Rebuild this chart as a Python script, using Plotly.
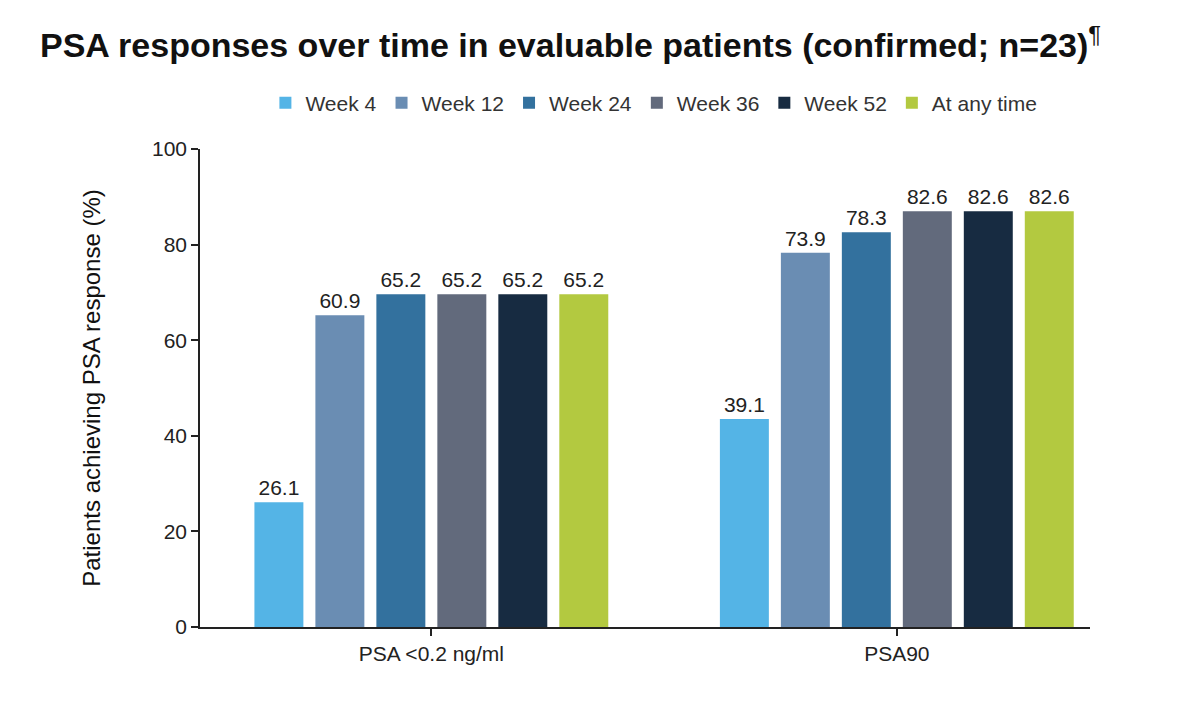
import plotly.graph_objects as go

categories = ["PSA <0.2 ng/ml", "PSA90"]
series_names = ["Week 4", "Week 12", "Week 24", "Week 36", "Week 52", "At any time"]
# bar heights as drawn in the reference (%)
bar_heights = {
    "Week 4": [26.1, 43.5],
    "Week 12": [65.2, 78.3],
    "Week 24": [69.6, 82.6],
    "Week 36": [69.6, 87.0],
    "Week 52": [69.6, 87.0],
    "At any time": [69.6, 87.0],
}
# value labels printed above the bars
bar_labels = {
    "Week 4": ["26.1", "39.1"],
    "Week 12": ["60.9", "73.9"],
    "Week 24": ["65.2", "78.3"],
    "Week 36": ["65.2", "82.6"],
    "Week 52": ["65.2", "82.6"],
    "At any time": ["65.2", "82.6"],
}
colors = ["#54B4E6", "#6A8DB3", "#33719E", "#626A7C", "#172B41", "#B3C940"]
y_ticks = [0, 20, 40, 60, 80, 100]

FONT = "Liberation Sans, Arial, sans-serif"

fig = go.Figure()
for name, col in zip(series_names, colors):
    fig.add_trace(go.Bar(
        name=name,
        x=categories,
        y=bar_heights[name],
        text=bar_labels[name],
        textposition="outside",
        textfont=dict(size=21, color="#222222", family=FONT),
        marker=dict(color=col, line=dict(width=0)),
        cliponaxis=False,
    ))

fig.update_layout(
    width=1200, height=718,
    paper_bgcolor="white", plot_bgcolor="white",
    barmode="group", bargap=0.214, bargroupgap=0.197,
    margin=dict(l=200, r=110, t=149, b=91, autoexpand=False),
    font=dict(family=FONT, color="#222222"),
    title=dict(
        text="<b>PSA responses over time in evaluable patients (confirmed; n=23)</b><sup>¶</sup>",
        x=40 / 1200, xanchor="left", xref="container",
        y=1 - 45 / 718, yanchor="middle", yref="container",
        font=dict(size=34, color="#111111", family=FONT),
    ),
    legend=dict(
        orientation="h", x=0.51, xanchor="center", y=1.096, yanchor="middle",
        font=dict(size=21, color="#333333", family=FONT),
        itemwidth=30, traceorder="normal",
        bgcolor="rgba(0,0,0,0)",
    ),
    showlegend=True,
)

fig.update_xaxes(
    range=[-0.497, 1.415],
    tickmode="array", tickvals=categories,
    ticktext=[c.replace("<", "&lt;") for c in categories],
    showline=True, linecolor="#222222", linewidth=1.5,
    ticks="outside", ticklen=7, tickcolor="#222222", tickwidth=1.5,
    tickfont=dict(size=21, color="#222222"),
    showgrid=False, zeroline=False,
)
fig.update_yaxes(
    range=[0, 100], tickvals=y_ticks,
    showline=True, linecolor="#222222", linewidth=1.5,
    ticks="outside", ticklen=7, tickcolor="#222222", tickwidth=1.5,
    tickfont=dict(size=21, color="#222222"),
    showgrid=False, zeroline=False,
    title=dict(text="Patients achieving PSA response (%)", standoff=45,
               font=dict(size=24, color="#111111")),
    automargin=False,
)

fig.write_html("out.html")
